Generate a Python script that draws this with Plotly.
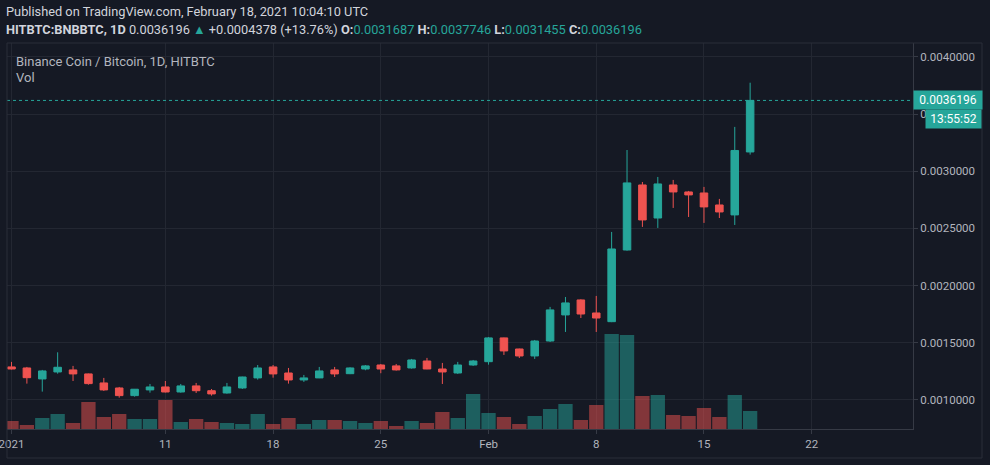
import pandas as pd
import plotly.graph_objects as go

# ---------------- data ----------------
dates = pd.date_range("2021-01-01", "2021-02-18", freq="D").strftime("%Y-%m-%d").tolist()

opens = [0.001288, 0.001279, 0.001183, 0.001244, 0.001262, 0.001227, 0.001148, 0.001104, 0.001037, 0.001087,
         0.001113, 0.001069, 0.001122, 0.001080, 0.001060, 0.001104, 0.001192, 0.001288, 0.001235, 0.001174,
         0.001192, 0.001262, 0.001229, 0.001270, 0.001305, 0.001297, 0.001279, 0.001340, 0.001270, 0.001235,
         0.001305, 0.001334, 0.001542, 0.001445, 0.001384, 0.001515, 0.001743, 0.001874, 0.001760, 0.001684,
         0.002311, 0.002880, 0.002591, 0.002880, 0.002819, 0.002810, 0.002705, 0.002618, 0.0031687]
highs = [0.001332, 0.001288, 0.001262, 0.001416, 0.001297, 0.001230, 0.001192, 0.001113, 0.001095, 0.001139,
         0.001165, 0.001139, 0.001148, 0.001095, 0.001148, 0.001203, 0.001305, 0.001305, 0.001279, 0.001218,
         0.001288, 0.001288, 0.001285, 0.001305, 0.001314, 0.001314, 0.001358, 0.001367, 0.001323, 0.001332,
         0.001349, 0.001550, 0.001545, 0.001448, 0.001524, 0.001813, 0.001900, 0.001880, 0.001909, 0.002469,
         0.003186, 0.002906, 0.002950, 0.002924, 0.002828, 0.002863, 0.002758, 0.003388, 0.0037746]
lows = [0.001266, 0.001142, 0.001072, 0.001229, 0.001165, 0.001133, 0.001078, 0.001019, 0.001028, 0.001063,
        0.001065, 0.001063, 0.001060, 0.001037, 0.001054, 0.001095, 0.001177, 0.001194, 0.001142, 0.001157,
        0.001190, 0.001200, 0.001225, 0.001259, 0.001233, 0.001256, 0.001273, 0.001268, 0.001139, 0.001227,
        0.001297, 0.001308, 0.001393, 0.001366, 0.001358, 0.001506, 0.001594, 0.001716, 0.001594, 0.001680,
        0.002305, 0.002513, 0.002504, 0.002679, 0.002600, 0.002548, 0.002591, 0.002530, 0.0031455]
closes = [0.001270, 0.001194, 0.001253, 0.001285, 0.001227, 0.001142, 0.001087, 0.001037, 0.001093, 0.001113,
          0.001069, 0.001122, 0.001080, 0.001052, 0.001113, 0.001200, 0.001279, 0.001227, 0.001174, 0.001192,
          0.001253, 0.001227, 0.001279, 0.001297, 0.001270, 0.001262, 0.001349, 0.001270, 0.001244, 0.001305,
          0.001340, 0.001542, 0.001428, 0.001384, 0.001515, 0.001787, 0.001848, 0.001751, 0.001716, 0.002320,
          0.002898, 0.002574, 0.002889, 0.002819, 0.002793, 0.002688, 0.002644, 0.0031818, 0.0036196]
volumes = [8, 4, 11, 15, 6, 27, 12, 15, 10, 10,
           29, 7, 10, 7, 6, 5, 15, 5, 11, 5,
           9, 9, 8, 6, 8, 3, 8, 6, 17, 11,
           35, 16, 12, 5, 13, 20, 25, 9, 24, 95,
           94, 33, 34, 14, 13, 21, 12, 34, 18]

price_ticks = [0.0010, 0.0015, 0.0020, 0.0025, 0.0030, 0.0035, 0.0040]
tick_dates = ["2021-01-01", "2021-01-11", "2021-01-18", "2021-01-25", "2021-02-01", "2021-02-08", "2021-02-15", "2021-02-22"]
tick_labels = ["2021", "11", "18", "25", "Feb", "8", "15", "22"]

# ---------------- style ----------------
BG = "#151924"
GRID = "#232732"
TXT = "#b2b5be"
UP = "#26a69a"
DN = "#ef5350"
UP_VOL = "rgba(38,166,154,0.5)"
DN_VOL = "rgba(239,83,80,0.5)"
FONT = "Roboto"

vol_colors = [UP_VOL if c >= o else DN_VOL for o, c in zip(opens, closes)]
last_close = closes[-1]

fig = go.Figure()
fig.add_trace(go.Bar(x=dates, y=volumes, marker=dict(color=vol_colors, line=dict(width=0)),
                     yaxis="y", showlegend=False, hoverinfo="skip"))
fig.add_trace(go.Candlestick(x=dates, open=opens, high=highs, low=lows, close=closes,
                             increasing=dict(line=dict(color=UP, width=1), fillcolor=UP),
                             decreasing=dict(line=dict(color=DN, width=1), fillcolor=DN),
                             yaxis="y2", showlegend=False))

W, H = 990, 465
ml, mr, mt, mb = 7, 77, 43, 36
pw = W - ml - mr
ph = H - mt - mb

def px_x(p):
    return (p - ml) / pw

def px_y(p):
    return (H - mb - p) / ph

header2 = ("<b>HITBTC:BNBBTC, 1D</b> 0.0036196 <span style='color:#26a69a'>▲</span> +0.0004378 (+13.76%) "
           "<b>O:</b><span style='color:#26a69a'>0.0031687</span> "
           "<b>H:</b><span style='color:#26a69a'>0.0037746</span> "
           "<b>L:</b><span style='color:#26a69a'>0.0031455</span> "
           "<b>C:</b><span style='color:#26a69a'>0.0036196</span>")

fig.update_layout(
    width=W, height=H,
    margin=dict(l=ml, r=mr, t=mt, b=mb, autoexpand=False),
    paper_bgcolor=BG, plot_bgcolor=BG,
    font=dict(family=FONT, color=TXT, size=11),
    bargap=0.07,
    showlegend=False,
    xaxis=dict(type="date", range=["2020-12-31 17:00", "2021-02-28 14:00"],
               tickvals=tick_dates, ticktext=tick_labels, ticklabeloverflow="allow",
               automargin=False,
               showgrid=True, gridcolor=GRID, gridwidth=1,
               ticks="outside", ticklen=4, tickcolor="#363a45",
               showline=True, linecolor="#363a45", linewidth=1,
               tickfont=dict(size=11.5, color=TXT, family=FONT),
               rangeslider=dict(visible=False), zeroline=False),
    yaxis=dict(range=[0, max(volumes) / 0.246], visible=False, showgrid=False, zeroline=False,
               automargin=False),
    yaxis2=dict(overlaying="y", side="right", anchor="x",
                range=[0.000745, 0.004122], automargin=False,
                tickvals=price_ticks, tickformat=".7f",
                showgrid=True, gridcolor=GRID, gridwidth=1,
                ticks="outside", ticklen=4, tickcolor="#363a45",
                showline=True, linecolor="#363a45", linewidth=1,
                tickfont=dict(size=11.5, color=TXT, family=FONT), zeroline=False),
    shapes=[
        dict(type="line", xref="paper", yref="y2", x0=0, x1=1, y0=last_close, y1=last_close,
             line=dict(color=UP, width=1, dash="dot"), layer="above"),
        dict(type="rect", xref="paper", yref="paper", x0=0, x1=px_x(982), y0=px_y(458), y1=1,
             line=dict(color="#2a2e39", width=1), fillcolor="rgba(0,0,0,0)", layer="above"),
    ],
    annotations=[
        dict(text="Published on TradingView.com, February 18, 2021 10:04:10 UTC", xref="paper", yref="paper",
             x=px_x(4), y=px_y(12), xanchor="left", yanchor="middle", showarrow=False,
             font=dict(size=12.8, color="#d1d4dc", family=FONT)),
        dict(text=header2, xref="paper", yref="paper",
             x=px_x(4), y=px_y(29), xanchor="left", yanchor="middle", showarrow=False,
             font=dict(size=12.8, color="#d1d4dc", family=FONT)),
        dict(text="Binance Coin / Bitcoin, 1D, HITBTC", xref="paper", yref="paper",
             x=px_x(14), y=px_y(61), xanchor="left", yanchor="middle", showarrow=False,
             font=dict(size=13, color=TXT, family=FONT)),
        dict(text="Vol", xref="paper", yref="paper",
             x=px_x(14), y=px_y(77), xanchor="left", yanchor="middle", showarrow=False,
             font=dict(size=13, color=TXT, family=FONT)),
        dict(text="0.0036196", xref="paper", yref="y2", x=px_x(947.5), y=last_close,
             xanchor="center", yanchor="middle", showarrow=False, width=66, height=16,
             bgcolor=UP, borderpad=1, font=dict(size=12, color="#ffffff", family=FONT)),
        dict(text="13:55:52", xref="paper", yref="paper", x=px_x(954), y=px_y(119),
             xanchor="center", yanchor="middle", showarrow=False, width=53, height=16,
             bgcolor=UP, borderpad=1, font=dict(size=12, color="#ffffff", family=FONT)),
    ],
)

fig.write_html("out.html", config={"displayModeBar": False},
               post_script="document.body.style.margin='0px';document.body.style.background='" + BG + "';")
